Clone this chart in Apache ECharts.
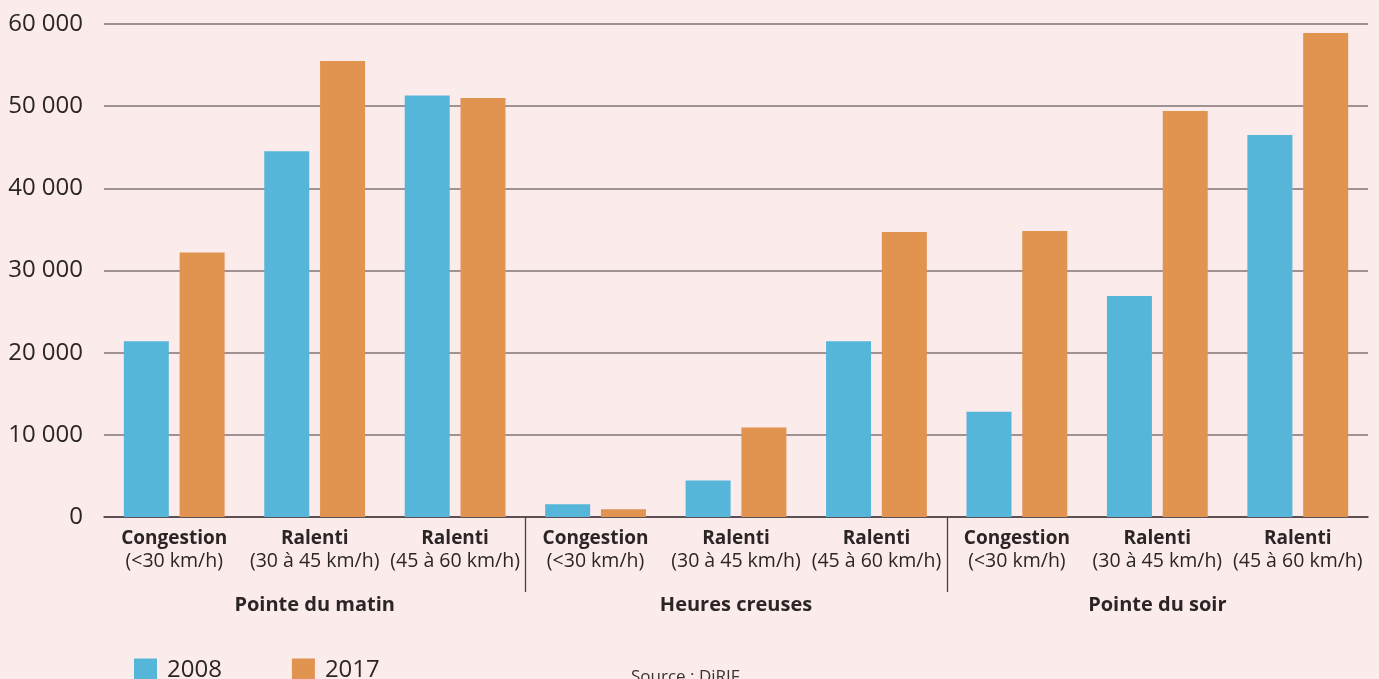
<!DOCTYPE html>
<html lang="fr">
<head>
<meta charset="utf-8">
<title>Congestion et ralentissements en Île-de-France</title>
<script src="https://cdn.jsdelivr.net/npm/echarts@6/dist/echarts.min.js"></script>
<style>
  html, body { margin: 0; padding: 0; background: #fcebeb; }
  #chart { width: 1379px; height: 679px; }
</style>
</head>
<body>
<div id="chart"></div>
<script>
// Catégories de vitesse, répétées pour chaque période de la journée
const speedNames = ['Congestion', 'Ralenti', 'Ralenti', 'Congestion', 'Ralenti', 'Ralenti', 'Congestion', 'Ralenti', 'Ralenti'];
const speedRanges = ['(<30 km/h)', '(30 à 45 km/h)', '(45 à 60 km/h)', '(<30 km/h)', '(30 à 45 km/h)', '(45 à 60 km/h)', '(<30 km/h)', '(30 à 45 km/h)', '(45 à 60 km/h)'];
const periods = ['Pointe du matin', 'Heures creuses', 'Pointe du soir'];
const seriesNames = ['2008', '2017'];
const values2008 = [21400, 44500, 51300, 1550, 4450, 21400, 12800, 26900, 46500];
const values2017 = [32200, 55500, 51000, 950, 10900, 34700, 34800, 49400, 58900];
const yTicks = [0, 10000, 20000, 30000, 40000, 50000, 60000];
const sourceText = 'Source : DiRIF';

const categories = speedNames.map((n, i) => n + '\n' + speedRanges[i]);
const FONT = '"Open Sans", "DejaVu Sans", sans-serif';
const TEXT = '#2b2526';

const chart = echarts.init(document.getElementById('chart'), null, { renderer: 'canvas' });

const fmt = v => String(v).replace(/\B(?=(\d{3})+(?!\d))/g, ' ');

chart.setOption({
  backgroundColor: '#fcebeb',
  animation: false,
  textStyle: { fontFamily: FONT },
  grid: { left: 104, right: 11, top: 24, bottom: 162, containLabel: false },
  legend: {
    left: 129, top: 653,
    itemWidth: 23, itemHeight: 23, itemGap: 70,
    icon: 'rect',
    data: seriesNames,
    textStyle: { fontFamily: FONT, fontSize: 24, color: TEXT, padding: [0, 0, 0, 5] }
  },
  xAxis: [
    {
      type: 'category',
      data: categories,
      axisLine: { show: true, lineStyle: { color: '#463d3f', width: 1.5 } },
      axisTick: { show: false },
      axisLabel: {
        interval: 0,
        margin: 10,
        formatter: v => {
          const p = v.split('\n');
          return '{n|' + p[0] + '}\n{r|' + p[1] + '}';
        },
        rich: {
          n: { fontFamily: FONT, fontSize: 19, fontWeight: 'bold', color: TEXT, lineHeight: 23 },
          r: { fontFamily: FONT, fontSize: 19.5, color: TEXT, lineHeight: 23 }
        }
      }
    },
    {
      type: 'category',
      data: periods,
      position: 'bottom',
      axisLine: { show: false },
      axisTick: { show: false },
      axisLabel: {
        interval: 0,
        margin: 76,
        fontFamily: FONT, fontSize: 20, fontWeight: 'bold', color: TEXT, lineHeight: 24
      }
    }
  ],
  yAxis: {
    type: 'value',
    min: yTicks[0],
    max: yTicks[yTicks.length - 1],
    interval: yTicks[1] - yTicks[0],
    axisLine: { show: false },
    axisTick: { show: false },
    splitLine: { lineStyle: { color: '#7f7577', width: 1.6 } },
    axisLabel: {
      margin: 21,
      fontFamily: FONT, fontSize: 24, color: TEXT,
      formatter: v => fmt(v)
    }
  },
  series: [
    {
      name: seriesNames[0], type: 'bar', xAxisIndex: 0,
      data: values2008, barWidth: 45, barGap: '24%',
      itemStyle: { color: '#55b6da' }
    },
    {
      name: seriesNames[1], type: 'bar', xAxisIndex: 0,
      data: values2017, barWidth: 45, barGap: '24%',
      itemStyle: { color: '#e19350' }
    }
  ]
});

// Séparateurs verticaux entre les périodes, sous l'axe des catégories
function drawSeparators() {
  const y0 = chart.convertToPixel({ yAxisIndex: 0 }, 0);
  const perGroup = categories.length / periods.length;
  const elements = [];
  for (let g = 1; g < periods.length; g++) {
    const k = g * perGroup;
    const a = chart.convertToPixel({ xAxisIndex: 0 }, k - 1);
    const b = chart.convertToPixel({ xAxisIndex: 0 }, k);
    const x = Math.round((a + b) / 2) + 0.5;
    elements.push({
      type: 'line', silent: true,
      shape: { x1: x, y1: y0, x2: x, y2: y0 + 75 },
      style: { stroke: '#4a4143', lineWidth: 1.3 }
    });
  }
  elements.push({
    type: 'text', silent: true, left: 631, top: 669,
    style: { text: sourceText, fontFamily: FONT, fontSize: 17, fill: '#3a3334' }
  });
  chart.setOption({ graphic: elements });
}
drawSeparators();
</script>
</body>
</html>
